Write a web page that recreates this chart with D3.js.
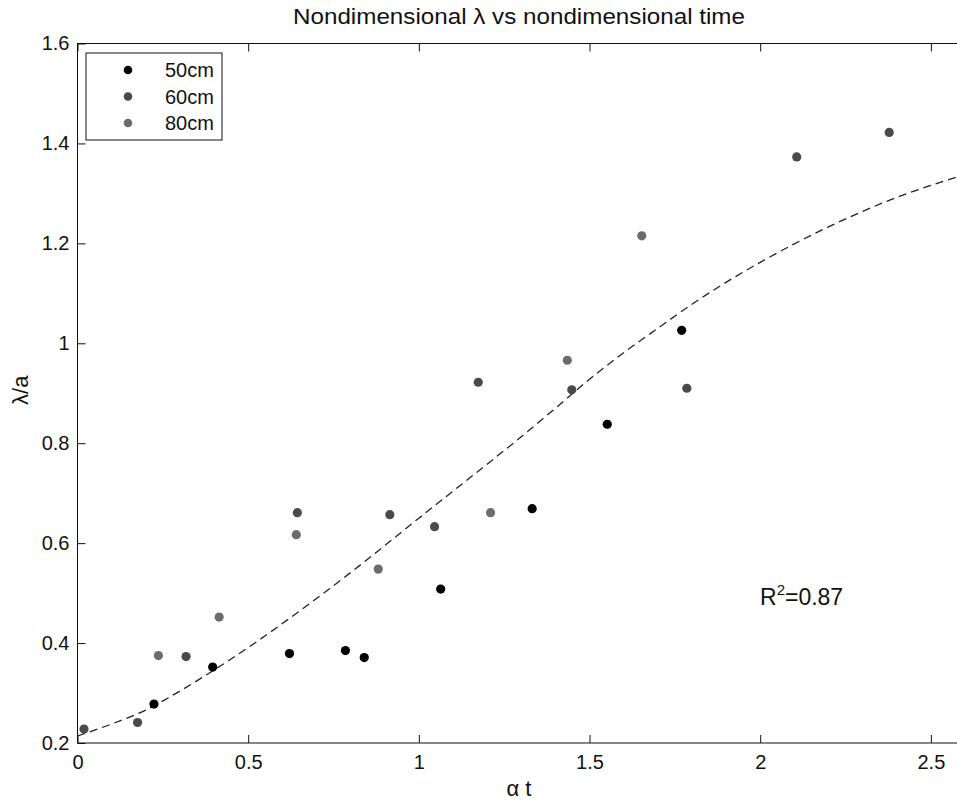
<!DOCTYPE html>
<html>
<head>
<meta charset="utf-8">
<script src="https://cdn.jsdelivr.net/npm/d3@7"></script>
<style>
  body { margin: 0; background: #fff; }
  text { font-family: "Liberation Sans", Arial, sans-serif; fill: #111; }
</style>
</head>
<body>
<svg id="chart" width="957" height="800"></svg>
<script>
// data
var series = ["50cm", "60cm", "80cm"];
var colors = ["#000000", "#4a4a4a", "#6c6c6c"];

var t50 = [0.224, 0.396, 0.621, 0.785, 0.840, 1.064, 1.332, 1.552, 1.770];
var l50 = [0.278, 0.352, 0.379, 0.385, 0.371, 0.508, 0.669, 0.838, 1.026];

var t60 = [0.019, 0.176, 0.318, 0.644, 0.915, 1.046, 1.174, 1.448, 1.785, 2.107, 2.378];
var l60 = [0.228, 0.241, 0.373, 0.661, 0.657, 0.633, 0.922, 0.907, 0.910, 1.373, 1.422];

var t80 = [0.237, 0.415, 0.641, 0.881, 1.210, 1.435, 1.653];
var l80 = [0.375, 0.452, 0.617, 0.548, 0.661, 0.966, 1.215];

// dashed fit line
var fitT = [0, 0.1, 0.2, 0.3, 0.4, 0.5, 0.6, 0.7, 0.8, 0.9, 1.0, 1.1, 1.2, 1.3,
            1.4, 1.5, 1.6, 1.7, 1.8, 1.9, 2.0, 2.1, 2.2, 2.3, 2.4, 2.5, 2.6];
var fitL = [0.214, 0.238, 0.266, 0.304, 0.346, 0.391, 0.439, 0.489, 0.541, 0.595,
            0.650, 0.704, 0.758, 0.813, 0.870, 0.928, 0.981, 1.030, 1.078, 1.122,
            1.162, 1.199, 1.233, 1.264, 1.292, 1.316, 1.338];

var xTicks = [0, 0.5, 1, 1.5, 2, 2.5];
var yTicks = [0.2, 0.4, 0.6, 0.8, 1, 1.2, 1.4, 1.6];

var svg = d3.select("#chart");
var mLeft = 77.5, mRight = 965, mTop = 43.5, mBottom = 743;

var x = d3.scaleLinear().domain([0, 2.6]).range([mLeft, mRight]);
var y = d3.scaleLinear().domain([0.2, 1.6]).range([mBottom, mTop]);

// axes, ticks pointing inward
svg.append("g")
    .attr("transform", "translate(0," + mBottom + ")")
    .call(d3.axisBottom(x).tickValues(xTicks).tickSize(-8).tickPadding(12)
        .tickFormat(d3.format("")))
    .style("font-size", "20px");

svg.append("g")
    .attr("transform", "translate(0," + mTop + ")")
    .call(d3.axisTop(x).tickValues(xTicks).tickSize(-8).tickFormat(""));

svg.append("g")
    .attr("transform", "translate(" + mLeft + ",0)")
    .call(d3.axisLeft(y).tickValues(yTicks).tickSize(-8).tickPadding(8)
        .tickFormat(d3.format("")))
    .style("font-size", "20px");

svg.append("g")
    .attr("transform", "translate(" + mRight + ",0)")
    .call(d3.axisRight(y).tickValues(yTicks).tickSize(-8).tickFormat(""));

svg.selectAll(".domain").remove();
svg.selectAll(".tick line").attr("stroke", "#111");
svg.selectAll(".tick text").attr("fill", "#111").style("font-family", "Liberation Sans, Arial, sans-serif");

svg.append("rect")
    .attr("x", mLeft).attr("y", mTop)
    .attr("width", mRight - mLeft).attr("height", mBottom - mTop)
    .attr("fill", "none").attr("stroke", "#111").attr("stroke-width", 1);

// fit curve
var fit = fitT.map(function(d, i) { return [d, fitL[i]]; });
svg.append("path")
    .datum(fit)
    .attr("fill", "none")
    .attr("stroke", "#222")
    .attr("stroke-width", 1.3)
    .attr("stroke-dasharray", "8,5")
    .attr("d", d3.line()
        .x(function(d) { return x(d[0]); })
        .y(function(d) { return y(d[1]); })
        .curve(d3.curveCatmullRom));

// points
var groups = [[t50, l50], [t60, l60], [t80, l80]];
groups.forEach(function(g, k) {
    svg.append("g").selectAll("circle")
        .data(g[0])
        .enter()
        .append("circle")
        .attr("cx", function(d) { return x(d); })
        .attr("cy", function(d, i) { return y(g[1][i]); })
        .attr("r", 4.6)
        .attr("fill", colors[k]);
});

// legend
var lg = svg.append("g");
lg.append("rect")
    .attr("x", 86).attr("y", 53).attr("width", 136).attr("height", 87)
    .attr("fill", "#fff").attr("stroke", "#111").attr("stroke-width", 1);
series.forEach(function(s, i) {
    lg.append("circle")
        .attr("cx", 128).attr("cy", 70 + i * 26.5)
        .attr("r", 4.3).attr("fill", colors[i]);
    lg.append("text")
        .attr("x", 165).attr("y", 77 + i * 26.5)
        .style("font-size", "20px")
        .text(s);
});

// title and labels
svg.append("text")
    .attr("x", 519).attr("y", 24)
    .attr("text-anchor", "middle")
    .attr("textLength", 452)
    .attr("lengthAdjust", "spacingAndGlyphs")
    .style("font-size", "22px")
    .text("Nondimensional \u03bb vs nondimensional time");

svg.append("text")
    .attr("x", 519).attr("y", 796)
    .attr("text-anchor", "middle")
    .style("font-size", "22px")
    .text("\u03b1 t");

svg.append("text")
    .attr("transform", "translate(28," + ((mTop + mBottom) / 2 - 3) + ") rotate(-90)")
    .attr("text-anchor", "middle")
    .style("font-size", "22px")
    .text("\u03bb/a");

var r2 = svg.append("text")
    .attr("x", 760).attr("y", 605)
    .style("font-size", "23px");
r2.append("tspan").text("R");
r2.append("tspan").attr("dy", -10).style("font-size", "15px").text("2");
r2.append("tspan").attr("dy", 10).text("=0.87");
</script>
</body>
</html>
